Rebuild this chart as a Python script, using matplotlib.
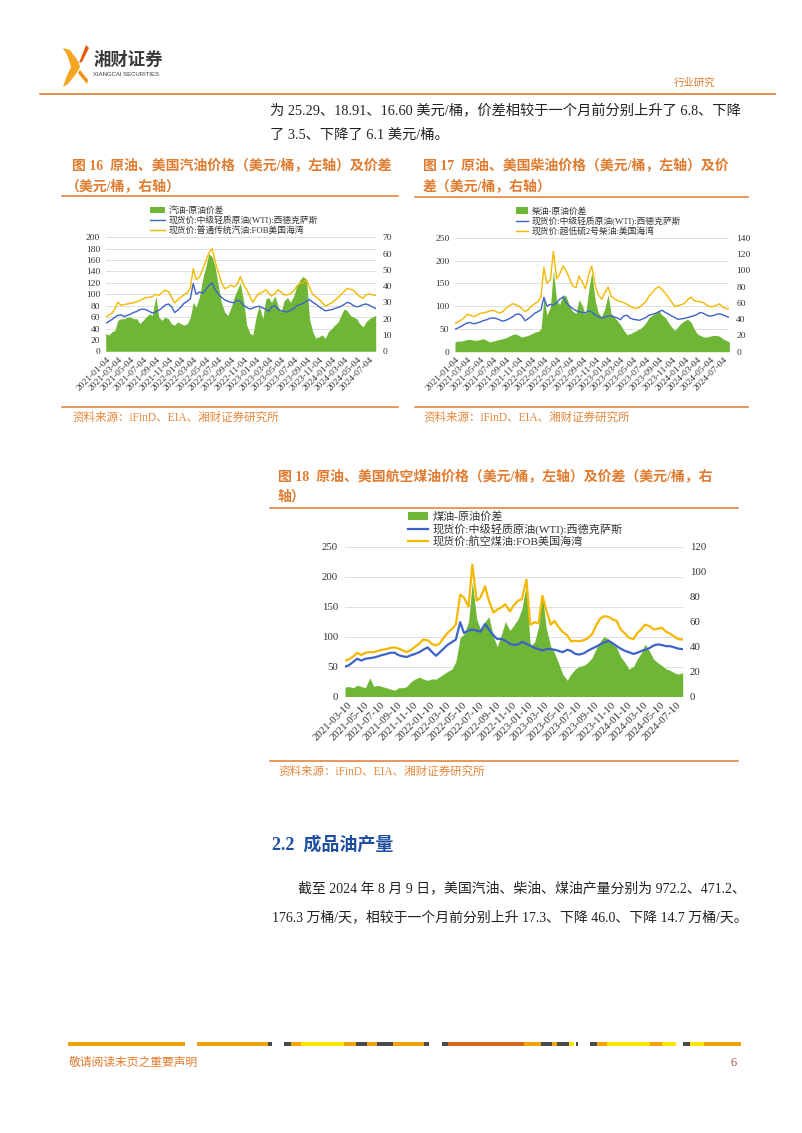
import numpy as np
import pandas as pd
import matplotlib
matplotlib.use('Agg')
import matplotlib.pyplot as plt
import matplotlib.transforms as mtransforms
from matplotlib.patches import Polygon

plt.rcParams['font.family'] = ['Liberation Serif', 'Noto Sans CJK SC', 'DejaVu Sans']
plt.rcParams['axes.unicode_minus'] = False

W, H = 802, 1133
ORANGE = '#E07B2F'
SRC = '#E8873A'
GREEN = '#70B636'
BLUE = '#3D63C8'
GOLD = '#F5B800'
GRID = '#D9D9D9'
TXT = '#222222'

# ---------------- data (semi-monthly readings) ----------------
# 图16 / 图17: 2021-01 ~ 2024-08
dates_a = pd.date_range('2021-01-01', periods=87, freq='SMS')
wti = [49, 52, 56, 60, 63, 64, 61, 63, 65, 68,
       70, 73, 74, 73, 70, 67, 69, 72, 76, 81,
       83, 79, 68, 72, 78, 84, 88, 92, 119, 100,
       104, 102, 108, 115, 120, 108, 100, 95, 90, 88,
       86, 85, 90, 87, 80, 77, 74, 76, 78, 79,
       76, 74, 70, 78, 80, 74, 71, 70, 69, 72,
       75, 80, 82, 84, 88, 91, 86, 83, 78, 75,
       71, 72, 73, 75, 77, 79, 82, 86, 84, 80,
       78, 79, 82, 83, 81, 78, 75]
gasoline = [61, 63, 67, 75, 86, 81, 82, 83, 84, 85,
            87, 89, 92, 94, 95, 96, 100, 98, 103, 107,
            105, 96, 85, 90, 95, 99, 103, 110, 145, 126,
            131, 143, 158, 172, 180, 158, 138, 121, 110, 112,
            116, 113, 118, 131, 116, 108, 96, 86, 96, 102,
            104, 108, 102, 97, 101, 108, 104, 99, 99, 101,
            106, 114, 119, 121, 125, 112, 100, 96, 91, 86,
            79, 82, 85, 89, 94, 100, 105, 110, 109, 107,
            101, 96, 93, 99, 101, 99, 98]
gas_spread = [11, 10, 12, 13, 19, 20, 20, 21, 21, 20,
              20, 17, 19, 21, 23, 22, 34, 21, 19, 21,
              20, 17, 16, 18, 17, 16, 17, 21, 30, 27,
              34, 44, 52, 60, 58, 52, 40, 30, 24, 22,
              27, 33, 38, 42, 30, 16, 11, 10, 22, 28,
              20, 32, 33, 30, 34, 28, 24, 31, 33, 30,
              34, 40, 44, 46, 44, 20, 12, 8, 9, 10,
              8, 12, 14, 16, 18, 22, 26, 25, 22, 21,
              20, 17, 15, 18, 20, 21, 22]
diesel = [62, 65, 70, 75, 82, 80, 77, 80, 84, 85,
          87, 89, 91, 88, 85, 87, 95, 100, 105, 104,
          100, 95, 88, 92, 100, 105, 110, 121, 185, 150,
          158, 220, 160, 170, 188, 178, 160, 145, 140, 166,
          152, 138, 170, 188, 145, 125, 115, 128, 142, 122,
          116, 112, 110, 108, 104, 100, 96, 95, 98, 104,
          110, 122, 130, 138, 143, 136, 128, 120, 108, 99,
          101, 103, 106, 114, 120, 112, 110, 110, 107, 102,
          99, 99, 102, 105, 98, 95, 93]
diesel_spread = [12, 13, 13, 14, 15, 15, 14, 14, 15, 16,
                 14, 12, 13, 14, 15, 16, 17, 19, 21, 22,
                 20, 18, 19, 20, 22, 24, 25, 28, 66, 45,
                 55, 100, 62, 58, 70, 68, 56, 50, 47, 64,
                 56, 45, 76, 98, 62, 48, 43, 52, 70, 47,
                 42, 38, 33, 27, 21, 22, 24, 26, 28, 31,
                 36, 42, 45, 47, 50, 45, 42, 36, 30, 26,
                 31, 35, 38, 40, 36, 28, 22, 20, 18, 18,
                 19, 20, 20, 19, 16, 14, 12]

# 图18: 2021-03 ~ 2024-08
dates_b = pd.date_range('2021-03-01', periods=83, freq='SMS')
wti_b = [50, 52, 58, 63, 60, 63, 64, 65, 67, 69,
         71, 73, 73, 69, 67, 66, 69, 71, 74, 78,
         82, 75, 68, 74, 80, 86, 91, 95, 124, 106,
         110, 112, 110, 108, 121, 112, 102, 96, 96, 93,
         88, 86, 87, 91, 88, 85, 81, 79, 77, 79,
         79, 78, 76, 74, 78, 76, 71, 70, 72, 76,
         80, 83, 87, 90, 93, 89, 84, 80, 76, 74,
         71, 73, 76, 78, 81, 85, 87, 86, 84, 84,
         82, 80, 79]
jet = [60, 62, 67, 73, 69, 73, 74, 74, 76, 78,
       79, 81, 82, 80, 77, 74, 78, 83, 88, 95,
       94, 88, 85, 89, 98, 106, 113, 120, 170, 165,
       150, 220, 160, 165, 184, 160, 140, 145, 149, 154,
       142, 152, 160, 162, 195, 120, 124, 122, 168, 145,
       120, 126, 115, 108, 102, 92, 93, 92, 94, 97,
       104, 118, 130, 134, 133, 129, 126, 112, 105, 98,
       96, 106, 112, 120, 117, 112, 113, 115, 108, 105,
       100, 96, 95]
jet_spread = [7.5, 8, 7, 9, 8, 7, 15, 8, 9, 8,
              7, 6, 5, 7, 7, 8, 12, 14, 15.5, 14,
              13, 14, 14, 16, 18, 20, 22, 28, 47, 50,
              60, 92, 62, 54, 60, 64, 48, 40, 50, 60,
              53, 57, 62, 70, 90, 40, 44, 56, 82, 55,
              40, 35, 26, 18, 13, 18, 22, 24, 25, 27,
              31, 38, 44, 48, 46, 42, 39, 32, 27, 22,
              24, 30, 35, 42, 36, 30, 27, 25, 22, 21,
              19, 18, 19]

wti_name = '现货价:中级轻质原油(WTI):西德克萨斯'
labels16 = ['汽油-原油价差', wti_name, '现货价:普通传统汽油:FOB美国海湾']
labels17 = ['柴油-原油价差', wti_name, '现货价:超低硫2号柴油:美国海湾']
labels18 = ['煤油-原油价差', wti_name, '现货价:航空煤油:FOB美国海湾']

fig = plt.figure(figsize=(W / 100, H / 100), dpi=100)
ov = fig.add_axes([0, 0, 1, 1], zorder=-5)
ov.set_xlim(0, W)
ov.set_ylim(H, 0)
ov.axis('off')


def chart(box, dates, spread, crude, prod, labels, ylim, ystep, y2lim, y2step,
          tick_start, n_ticks, fs, lw, leg_xy, leg_fs, hl, pads):
    l, t, r, b = box
    ax = fig.add_axes([l / W, 1 - b / H, (r - l) / W, (b - t) / H])
    ax2 = ax.twinx()
    ax.set_zorder(ax2.get_zorder() + 1)
    ax.patch.set_visible(False)
    ax.set_ylim(*ylim)
    ax2.set_ylim(*y2lim)
    yt = np.arange(ylim[0], ylim[1] + 1, ystep)
    ax.set_yticks(yt)
    ax2.set_yticks(np.arange(y2lim[0], y2lim[1] + 1, y2step))

    # gridlines follow the left axis but sit under the area
    trans = mtransforms.blended_transform_factory(ax2.transAxes, ax.transData)
    for v in yt:
        ax2.plot([0, 1], [v, v], transform=trans, color=GRID, lw=0.6, zorder=0)

    area = ax2.fill_between(dates, 0, spread, color=GREEN, lw=0, zorder=1)
    l1, = ax.plot(dates, crude, color=BLUE, lw=lw)
    l2, = ax.plot(dates, prod, color=GOLD, lw=lw)
    ax.set_xlim(dates[0], dates[-1])

    ticks = pd.date_range(tick_start, periods=n_ticks, freq=pd.DateOffset(months=2))
    ax.set_xticks(ticks)
    ax.set_xticklabels([d.strftime('%Y-%m-%d') for d in ticks], rotation=45,
                       ha='right', rotation_mode='anchor', fontsize=fs, color='#333333')
    for a in (ax, ax2):
        for s in a.spines.values():
            s.set_visible(False)
    ax.tick_params(axis='x', length=0, pad=pads[0])
    ax.tick_params(axis='y', length=0, pad=pads[1], labelsize=fs, labelcolor='#333333')
    ax2.tick_params(axis='y', length=0, pad=pads[2], labelsize=fs, labelcolor='#333333')

    leg = ax.legend([area, l1, l2], labels, loc='upper left',
                    bbox_to_anchor=(leg_xy[0] / W, 1 - leg_xy[1] / H),
                    bbox_transform=fig.transFigure, frameon=False, fontsize=leg_fs,
                    handlelength=hl, handleheight=0.7, handletextpad=0.4,
                    labelspacing=0.12, borderpad=0, borderaxespad=0)
    for tx in leg.get_texts():
        tx.set_color('#333333')
    return ax


chart((105.7, 237.3, 375.7, 351.3), dates_a, gas_spread, wti, gasoline, labels16,
      (0, 200), 20, (0, 70), 10, '2021-01-04', 22, 6.8, 1.0, (150, 206), 6.3, 1.7,
      (3, 4, 5))
chart((455, 237.7, 729.3, 351.7), dates_a, diesel_spread, wti, diesel, labels17,
      (0, 250), 50, (0, 140), 20, '2021-01-04', 22, 6.8, 1.0, (516, 207), 6.3, 1.4,
      (3, 4, 5))
chart((345, 546.7, 682.7, 696.5), dates_b, jet_spread, wti_b, jet, labels18,
      (0, 250), 50, (0, 120), 20, '2021-03-10', 21, 7.8, 1.6, (408, 511), 8, 1.8,
      (3, 5, 5))

# ---------------- page decoration ----------------
# logo
for pts, c in [([(63, 48), (70, 50), (78, 61), (80, 67), (76, 74), (68, 84), (63, 87),
                 (66, 78), (71, 67), (68, 57)], '#F5A623'),
               ([(86, 45), (89, 48), (82, 62), (79, 63)], '#E8590C'),
               ([(80, 70), (88, 80), (87, 84), (78, 73)], '#F39200')]:
    ov.add_patch(Polygon(pts, closed=True, color=c, lw=0))
ov.text(93, 60, '湘财证券', fontsize=12.5, fontweight='bold', color='#3a3a3a',
        va='center', family=['Noto Sans CJK SC'])
ov.text(93, 75, 'XIANGCAI SECURITIES', fontsize=4.3, color='#3a3a3a', va='center',
        family=['Liberation Sans'])
ov.plot([40, 775], [94, 94], color=ORANGE, lw=1.2)
ov.text(715, 83, '行业研究', fontsize=7.5, color=ORANGE, va='center', ha='right')

# body text
ov.text(270, 111, '为 25.29、18.91、16.60 美元/桶，价差相较于一个月前分别上升了 6.8、下降',
        fontsize=10.3, color=TXT, va='center')
ov.text(270, 135, '了 3.5、下降了 6.1 美元/桶。', fontsize=10.3, color=TXT, va='center')

# titles
tkw = dict(fontsize=10, fontweight='bold', color=ORANGE, va='center')
ov.text(72, 165, '图 16  原油、美国汽油价格（美元/桶，左轴）及价差', **tkw)
ov.text(66, 186, '（美元/桶，右轴）', **tkw)
ov.text(423, 165, '图 17  原油、美国柴油价格（美元/桶，左轴）及价', **tkw)
ov.text(423, 186, '差（美元/桶，右轴）', **tkw)
ov.text(278, 476, '图 18  原油、美国航空煤油价格（美元/桶，左轴）及价差（美元/桶，右', **tkw)
ov.text(278, 497, '轴）', **tkw)
for x0, x1, y in [(62, 398, 196), (415, 748, 196.7), (270, 738, 507.7),
                  (62, 398, 406.7), (415, 748, 407.3), (270, 738, 761)]:
    ov.plot([x0, x1], [y, y], color=ORANGE, lw=1.1)

src = '资料来源：iFinD、EIA、湘财证券研究所'
for x, y in [(72, 418), (423, 417.5), (278, 772)]:
    ov.text(x, y, src, fontsize=8.3, color=SRC, va='center')

# section 2.2
ov.text(272, 845, '2.2  成品油产量', fontsize=13, fontweight='bold', color='#1F4FA0',
        va='center')
ov.text(298, 888, '截至 2024 年 8 月 9 日，美国汽油、柴油、煤油产量分别为 972.2、471.2、',
        fontsize=10, color=TXT, va='center')
ov.text(272, 917, '176.3 万桶/天，相较于一个月前分别上升 17.3、下降 46.0、下降 14.7 万桶/天。',
        fontsize=10, color=TXT, va='center')

# footer
DK, OR, YE, RO = '#4A4A4A', '#F0A30A', '#FFE600', '#D2691E'
for x0, x1, c in [(67.5, 184.7, OR), (196.5, 267.7, OR), (267.7, 272.4, DK),
                  (284.3, 291.4, DK), (291.4, 300.9, OR), (300.9, 343.6, YE),
                  (343.6, 355.5, OR), (355.5, 367.3, DK), (367.3, 376.8, OR),
                  (376.8, 393.4, DK), (393.4, 424.2, OR), (424.2, 429, DK),
                  (442.3, 448, DK), (448, 523.9, RO), (523.9, 540.5, OR),
                  (540.5, 552.3, DK), (552.3, 557, OR), (557, 568.9, DK),
                  (568.9, 573.7, YE), (576, 578.4, DK), (590.3, 597.4, DK),
                  (597.4, 606.9, OR), (606.9, 649.6, YE), (649.6, 661.5, OR),
                  (661.5, 675.7, YE), (682.8, 689.9, DK), (689.9, 704.1, YE),
                  (704.1, 741.1, OR)]:
    ov.plot([x0, x1], [1043.7, 1043.7], color=c, lw=2.9, solid_capstyle='butt')
ov.text(69, 1063, '敬请阅读末页之重要声明', fontsize=8.5, color=ORANGE, va='center')
ov.text(737, 1063, '6', fontsize=9, color='#C0504D', va='center', ha='right')

fig.savefig('out.png', dpi=100)
